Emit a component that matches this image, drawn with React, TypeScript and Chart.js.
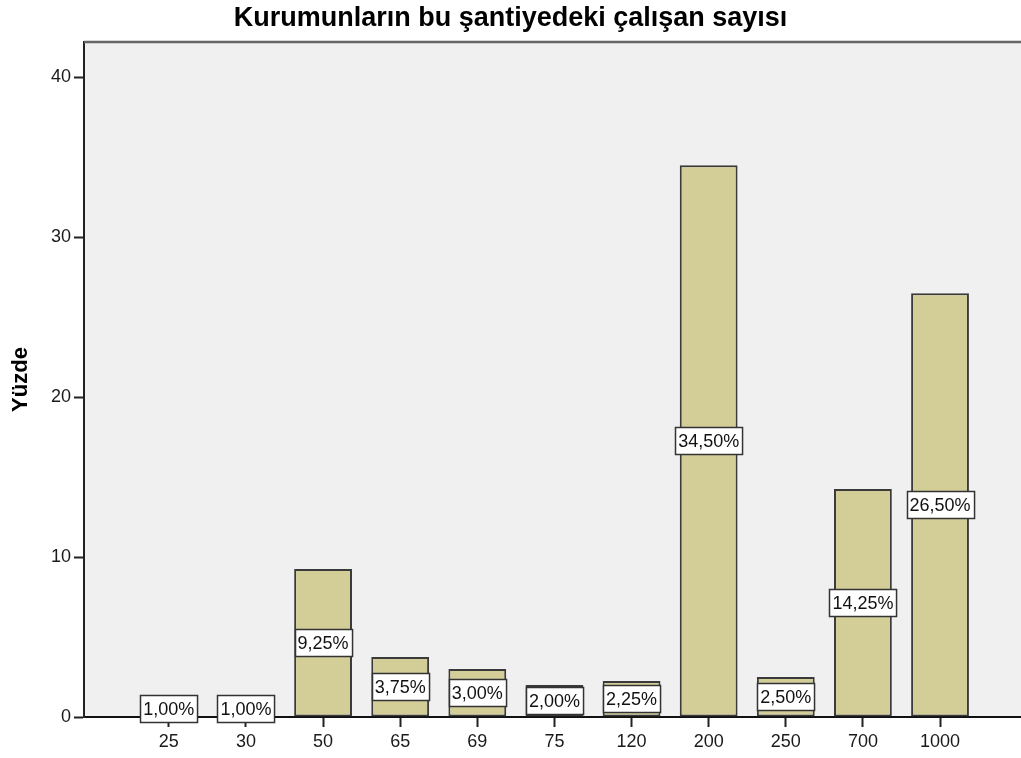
import { useEffect, useRef } from "react";
import { Chart, registerables } from "chart.js";

Chart.register(...registerables);

const chartTitle = "Kurumunların bu şantiyedeki çalışan sayısı";
const yAxisTitle = "Yüzde";
const categories = ["25", "30", "50", "65", "69", "75", "120", "200", "250", "700", "1000"];
const percentages = [1.0, 1.0, 9.25, 3.75, 3.0, 2.0, 2.25, 34.5, 2.5, 14.25, 26.5];
const yTickValues = [0, 10, 20, 30, 40];

const FONT = "'Liberation Sans', Arial, sans-serif";

const backgroundPlugin = {
  id: "bgPlugin",
  beforeDraw(chart: any) {
    const { ctx, chartArea, width, height } = chart;
    ctx.save();
    ctx.fillStyle = "#ffffff";
    ctx.fillRect(0, 0, width, height);
    ctx.fillStyle = "#f0f0f0";
    ctx.fillRect(chartArea.left, chartArea.top, chartArea.right - chartArea.left, chartArea.bottom - chartArea.top);
    ctx.restore();
  },
  afterDraw(chart: any) {
    const { ctx, chartArea } = chart;
    ctx.save();
    ctx.strokeStyle = "#666666";
    ctx.lineWidth = 2.5;
    ctx.beginPath();
    ctx.moveTo(chartArea.left, chartArea.top);
    ctx.lineTo(chartArea.right, chartArea.top);
    ctx.stroke();
    ctx.restore();
  },
};

const labelPlugin = {
  id: "boxLabels",
  afterDatasetsDraw(chart: any) {
    const { ctx } = chart;
    const meta = chart.getDatasetMeta(0);
    const values = chart.data.datasets[0].data as any[];
    ctx.save();
    ctx.font = `18px ${FONT}`;
    ctx.textAlign = "center";
    ctx.textBaseline = "middle";
    meta.data.forEach((el: any, i: number) => {
      const v = values[i].y as number;
      const text = v.toFixed(2).replace(".", ",") + "%";
      const mid = (el.y + el.base) / 2;
      const w = ctx.measureText(text).width + 6;
      const h = 27;
      const x0 = Math.round(el.x - w / 2) + 0.5;
      const y0 = Math.round(mid - h / 2) + 0.5;
      ctx.fillStyle = "#ffffff";
      ctx.fillRect(x0, y0, w, h);
      ctx.strokeStyle = "#333333";
      ctx.lineWidth = 1.5;
      ctx.strokeRect(x0, y0, w, h);
      ctx.fillStyle = "#111111";
      ctx.fillText(text, el.x, mid + 1);
    });
    ctx.restore();
  },
};

export default function App() {
  const canvasRef = useRef<HTMLCanvasElement | null>(null);

  useEffect(() => {
    if (!canvasRef.current) return;
    const chart = new Chart(canvasRef.current, {
      type: "bar",
      data: {
        datasets: [
          {
            data: percentages.map((v, i) => ({ x: i, y: v })),
            backgroundColor: "#d3ce97",
            borderColor: "#3a3a3a",
            borderWidth: 2,
            borderSkipped: false,
            categoryPercentage: 1,
            barPercentage: 0.75,
          },
        ],
      },
      options: {
        animation: false,
        responsive: false,
        devicePixelRatio: 1,
        layout: { padding: 0 },
        plugins: {
          legend: { display: false },
          tooltip: { enabled: false },
          title: {
            display: true,
            text: chartTitle,
            color: "#000000",
            font: { family: FONT, size: 27, weight: "bold" },
            padding: { top: 2, bottom: 7.6 },
          },
        },
        scales: {
          x: {
            type: "linear",
            offset: false,
            min: -1.1,
            max: 11.05,
            afterBuildTicks: (scale: any) => {
              scale.ticks = categories.map((_, i) => ({ value: i }));
            },
            afterFit: (scale: any) => {
              scale.height = 41;
            },
            ticks: {
              autoSkip: false,
              maxRotation: 0,
              padding: 4,
              color: "#1a1a1a",
              font: { family: FONT, size: 18 },
              callback: (v: any) => categories[v as number] ?? "",
            },
            grid: {
              offset: false,
              drawOnChartArea: false,
              drawTicks: true,
              tickLength: 10,
              tickWidth: 2,
              color: "#222222",
            },
            border: { display: true, color: "#111111", width: 2 },
          },
          y: {
            min: 0,
            max: 42.2,
            afterBuildTicks: (scale: any) => {
              scale.ticks = yTickValues.map((v) => ({ value: v }));
            },
            afterFit: (scale: any) => {
              scale.width = 84;
            },
            ticks: {
              padding: 3,
              color: "#1a1a1a",
              font: { family: FONT, size: 18 },
            },
            grid: {
              drawOnChartArea: false,
              drawTicks: true,
              tickLength: 10,
              tickWidth: 2,
              color: "#222222",
            },
            border: { display: true, color: "#222222", width: 2 },
            title: {
              display: true,
              text: yAxisTitle,
              color: "#000000",
              font: { family: FONT, size: 22, weight: "bold" },
              padding: { top: 8, bottom: 0 },
            },
          },
        },
      },
      plugins: [backgroundPlugin, labelPlugin],
    });
    return () => chart.destroy();
  }, []);

  return (
    <div style={{ position: "fixed", left: 0, top: 0, width: 1021, height: 758, background: "#fff" }}>
      <canvas ref={canvasRef} width={1021} height={758} />
    </div>
  );
}
